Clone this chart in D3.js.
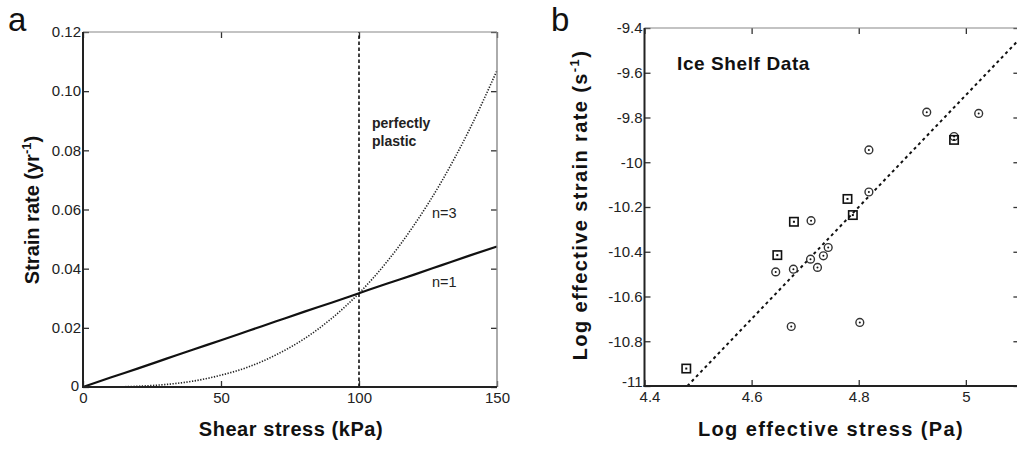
<!DOCTYPE html>
<html>
<head>
<meta charset="utf-8">
<script src="https://cdn.jsdelivr.net/npm/d3@7"></script>
<style>
  html, body { margin: 0; padding: 0; background: #fff; }
  svg { display: block; font-family: "Liberation Sans", Arial, Helvetica, sans-serif; }
</style>
</head>
<body>
<svg id="chart" width="1017" height="450"></svg>
<script>
// ---- Panel a: flow law curves ----
const stressKPa = [0, 10, 20, 30, 40, 50, 60, 70, 80, 90, 100, 110, 120, 130, 140, 150];
const rateN1 = [0, 0.0032, 0.0063, 0.0095, 0.0127, 0.0158, 0.0190, 0.0222, 0.0254, 0.0285, 0.0317, 0.0349, 0.0380, 0.0412, 0.0444, 0.0475];
const rateN3 = [0, 0.00003, 0.00025, 0.00086, 0.0020, 0.0040, 0.0068, 0.0109, 0.0162, 0.0231, 0.0317, 0.0422, 0.0548, 0.0696, 0.0870, 0.1070];
const plasticStress = 100;
const aXTicks = [0, 50, 100, 150];
const aYTicks = [0, 0.02, 0.04, 0.06, 0.08, 0.10, 0.12];
const aYTickLabels = ["0", "0.02", "0.04", "0.06", "0.08", "0.10", "0.12"];

// ---- Panel b: ice shelf observations ----
const circleStress = [4.927, 5.024, 4.978, 4.819, 4.819, 4.711, 4.743, 4.734, 4.710, 4.723, 4.678, 4.645, 4.674, 4.802];
const circleRate   = [-9.776, -9.782, -9.885, -9.945, -10.133, -10.261, -10.381, -10.418, -10.433, -10.470, -10.478, -10.490, -10.734, -10.716];
const squareStress = [4.478, 4.648, 4.679, 4.779, 4.789, 4.978];
const squareRate   = [-10.922, -10.415, -10.266, -10.164, -10.236, -9.900];
const fitStress = [4.48, 5.10];
const fitRate   = [-11.0, -9.45];
const bXTicks = [4.4, 4.6, 4.8, 5.0];
const bXTickLabels = ["4.4", "4.6", "4.8", "5"];
const bYTicks = [-11, -10.8, -10.6, -10.4, -10.2, -10, -9.8, -9.6, -9.4];
const bYTickLabels = ["-11", "-10.8", "-10.6", "-10.4", "-10.2", "-10", "-9.8", "-9.6", "-9.4"];

const svg = d3.select("#chart");
const TICK = 6;

function frame(g, x, y) {
  const [x0, x1] = x.range();
  const [y0, y1] = y.range();
  // top and right edges: thin grey
  g.append("line").attr("x1", x0).attr("x2", x1).attr("y1", y1).attr("y2", y1)
    .attr("stroke", "#888").attr("stroke-width", 1.2);
  g.append("line").attr("x1", x1).attr("x2", x1).attr("y1", y1).attr("y2", y0)
    .attr("stroke", "#888").attr("stroke-width", 1.4);
  // left and bottom edges: heavier black
  g.append("line").attr("x1", x0).attr("x2", x0).attr("y1", y1).attr("y2", y0 + 1)
    .attr("stroke", "#222").attr("stroke-width", 2);
  g.append("line").attr("x1", x0 - 1).attr("x2", x1).attr("y1", y0).attr("y2", y0)
    .attr("stroke", "#222").attr("stroke-width", 2);
}

function axes(g, x, y, xTicks, xLabels, yTicks, yLabels) {
  const [x0, x1] = x.range();
  const [y0, y1] = y.range();
  g.append("g").attr("class", "xaxis").attr("transform", `translate(0,${y0})`)
    .call(d3.axisBottom(x).tickValues(xTicks).tickSize(-TICK).tickPadding(5)
      .tickFormat((d, i) => xLabels[i]));
  g.append("g").attr("class", "yaxis").attr("transform", `translate(${x0},0)`)
    .call(d3.axisLeft(y).tickValues(yTicks).tickSize(-TICK).tickPadding(2)
      .tickFormat((d, i) => yLabels[i]));
  // mirrored inner ticks on top and right
  g.append("g").attr("transform", `translate(0,${y1})`)
    .call(d3.axisTop(x).tickValues(xTicks).tickSize(-TICK).tickFormat(""));
  g.append("g").attr("transform", `translate(${x1},0)`)
    .call(d3.axisRight(y).tickValues(yTicks).tickSize(-TICK).tickFormat(""));
  g.selectAll(".domain").remove();
  g.selectAll(".tick line").attr("stroke", "#333").attr("stroke-width", 1.3);
  g.selectAll(".tick text").attr("fill", "#222").style("font-size", "15px");
}

// ================= Panel a =================
const ax = d3.scaleLinear().domain([0, 150]).range([83, 497]);
const ay = d3.scaleLinear().domain([0, 0.12]).range([387, 32]);
const ga = svg.append("g");

axes(ga, ax, ay, aXTicks, aXTicks.map(String), aYTicks, aYTickLabels);
// keep the two "0" labels apart at the corner
ga.select(".yaxis").selectAll(".tick text").filter(d => d === 0).attr("x", -4).attr("dy", "0.2em");

// vertical dashed line (perfectly plastic limit)
ga.append("line")
  .attr("x1", ax(plasticStress)).attr("x2", ax(plasticStress))
  .attr("y1", ay(0)).attr("y2", ay(0.12))
  .attr("stroke", "#111").attr("stroke-width", 1.6).attr("stroke-dasharray", "3.5,2.5");

const lineA = (ys) => d3.line().x((d, i) => ax(stressKPa[i])).y(d => ay(d)).curve(d3.curveMonotoneX)(ys);

ga.append("path").attr("d", lineA(rateN3)).attr("fill", "none")
  .attr("stroke", "#222").attr("stroke-width", 1.6).attr("stroke-dasharray", "1.3,1.5");
ga.append("path").attr("d", lineA(rateN1)).attr("fill", "none")
  .attr("stroke", "#111").attr("stroke-width", 2.2);

frame(ga, ax, ay);

ga.append("text").attr("x", 372).attr("y", 128).text("perfectly")
  .style("font-size", "14px").style("font-weight", "bold").attr("fill", "#222");
ga.append("text").attr("x", 372).attr("y", 146).text("plastic")
  .style("font-size", "14px").style("font-weight", "bold").attr("fill", "#222");
ga.append("text").attr("x", 432).attr("y", 218).text("n=3")
  .style("font-size", "14.5px").attr("fill", "#222");
ga.append("text").attr("x", 432).attr("y", 287).text("n=1")
  .style("font-size", "14.5px").attr("fill", "#222");

ga.append("text").attr("x", 8).attr("y", 31).text("a")
  .style("font-size", "33px").attr("fill", "#111");

ga.append("text").attr("x", 291).attr("y", 436).attr("text-anchor", "middle")
  .style("font-size", "20px").style("font-weight", "bold").style("letter-spacing", "0.55px")
  .attr("fill", "#111")
  .text("Shear stress (kPa)");

const ayTitle = ga.append("text")
  .attr("transform", "translate(39,210) rotate(-90)")
  .attr("text-anchor", "middle")
  .style("font-size", "20px").style("font-weight", "bold").attr("fill", "#111");
ayTitle.append("tspan").text("Strain rate (yr");
ayTitle.append("tspan").attr("dy", -8).style("font-size", "13px").text("-1");
ayTitle.append("tspan").attr("dy", 8).text(")");

// ================= Panel b =================
const bx = d3.scaleLinear().domain([4.4, 5.1]).range([644.5, 1019.4]);
const by = d3.scaleLinear().domain([-11, -9.4]).range([386, 28]);
const gb = svg.append("g");

axes(gb, bx, by, bXTicks, bXTickLabels, bYTicks, bYTickLabels);
// corner labels: shift slightly so "-11" and "4.4" do not collide
gb.select(".xaxis").selectAll(".tick text").filter(d => d === 4.4).attr("x", 5);
gb.select(".yaxis").selectAll(".tick text").filter(d => d === -11).attr("dy", "0.05em");

gb.append("line")
  .attr("x1", bx(fitStress[0])).attr("y1", by(fitRate[0]))
  .attr("x2", bx(fitStress[1])).attr("y2", by(fitRate[1]))
  .attr("stroke", "#111").attr("stroke-width", 2).attr("stroke-dasharray", "3,3.3");

const circ = gb.append("g").selectAll("g").data(circleStress.map((s, i) => [s, circleRate[i]]))
  .join("g").attr("transform", d => `translate(${bx(d[0])},${by(d[1])})`);
circ.append("circle").attr("r", 3.9).attr("fill", "#fff").attr("stroke", "#333").attr("stroke-width", 1.4);
circ.append("circle").attr("r", 1).attr("fill", "#111");

const sq = gb.append("g").selectAll("g").data(squareStress.map((s, i) => [s, squareRate[i]]))
  .join("g").attr("transform", d => `translate(${bx(d[0])},${by(d[1])})`);
sq.append("rect").attr("x", -4.2).attr("y", -4.2).attr("width", 8.4).attr("height", 8.4)
  .attr("fill", "none").attr("stroke", "#111").attr("stroke-width", 1.6);
sq.append("rect").attr("x", -1).attr("y", -1).attr("width", 2).attr("height", 2).attr("fill", "#111");

frame(gb, bx, by);

gb.append("text").attr("x", 677).attr("y", 70).text("Ice Shelf Data")
  .style("font-size", "19px").style("font-weight", "bold").style("letter-spacing", "0.6px")
  .attr("fill", "#111");

gb.append("text").attr("x", 551).attr("y", 31).text("b")
  .style("font-size", "33px").attr("fill", "#111");

gb.append("text").attr("x", 831).attr("y", 436).attr("text-anchor", "middle")
  .style("font-size", "20px").style("font-weight", "bold").style("letter-spacing", "1.4px")
  .attr("fill", "#111")
  .text("Log effective stress (Pa)");

const byTitle = gb.append("text")
  .attr("transform", "translate(587,205) rotate(-90)")
  .attr("text-anchor", "middle")
  .style("font-size", "20px").style("font-weight", "bold").style("letter-spacing", "1.4px")
  .attr("fill", "#111");
byTitle.append("tspan").text("Log effective strain rate (s");
byTitle.append("tspan").attr("dy", -8).style("font-size", "13px").text("-1");
byTitle.append("tspan").attr("dy", 8).text(")");
</script>
</body>
</html>
